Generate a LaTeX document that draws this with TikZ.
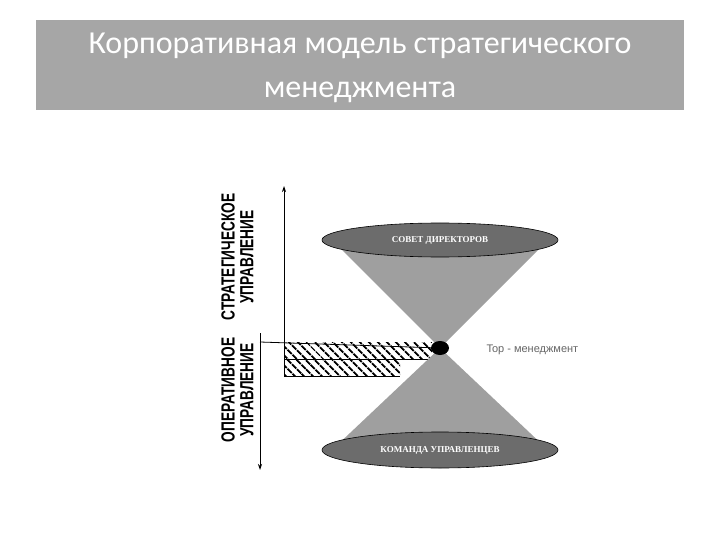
\documentclass[tikz,border=0pt]{standalone}
\usepackage{fontspec}
\setmainfont{Liberation Sans}
\newfontfamily\titlefont{Carlito}
\newfontfamily\serifcaps{Liberation Serif}
\usetikzlibrary{patterns.meta,arrows.meta}
\newcommand{\vtxt}[1]{\scalebox{0.72}[1]{\bfseries\fontsize{19}{20}\selectfont #1}}
\begin{document}
\begin{tikzpicture}[x=1pt,y=-1pt,
  vlab/.style={rotate=90, inner sep=0},
  disk/.style={draw=black, fill=gray!85!black, line width=0.6pt},
  cone/.style={fill=gray!75, draw=none},
  hatch/.style={pattern={Lines[angle=-45,distance=6.5pt,line width=2.2pt]}, pattern color=black},
  ax/.style={line width=0.8pt, -{Stealth[length=6pt,width=4pt]}}]
\useasboundingbox (0,0) rectangle (720,540);
\fill[white] (0,0) rectangle (720,540);
\node[fill=gray!70, minimum width=648, minimum height=90, anchor=north west, inner sep=0] (band) at (36,20) {};
\node[text=white, font=\titlefont\fontsize{32}{44}\selectfont, align=center] (title) at (360,68) {Корпоративная модель стратегического\\менеджмента};
% hatched block
\fill[hatch] (284,342) rectangle (432,359);
\fill[hatch] (284,359) rectangle (400,376);
\draw[line width=1pt] (284,359) -- (432,359);
\draw[line width=1pt] (284,342) -- (284,376) -- (400,376);
% cones
\coordinate (apex) at (440,348);
\fill[cone] (338,246) -- (apex) -- (542,246) -- cycle;
\fill[cone] (332,450) -- (apex) -- (548,450) -- cycle;
\draw[disk] (440,240) ellipse [x radius=118, y radius=17];
\node[text=white, font=\serifcaps\bfseries\fontsize{9}{10}\selectfont] (sd) at (440,240) {СОВЕТ ДИРЕКТОРОВ};
\draw[disk] (440,450) ellipse [x radius=118, y radius=18];
\node[text=white, font=\serifcaps\bfseries\fontsize{9}{10}\selectfont] (ku) at (440,450) {КОМАНДА УПРАВЛЕНЦЕВ};
\fill[black] (apex) ellipse [x radius=9, y radius=7];
\node[anchor=west, text=gray!80!black, font=\fontsize{11}{12}\selectfont] (top) at (483,350) {Top - менеджмент};
% axes
\coordinate (a1) at (284,342); \coordinate (a2) at (284,186);
\draw[ax] (a1) -- (a2);
\coordinate (b1) at (260,333); \coordinate (b2) at (260,470);
\draw[ax] (b1) -- (b2);
\coordinate (h1) at (260,342);
\draw[line width=0.8pt] (h1) -- (apex);
% vertical labels
\node[vlab] (s1) at (228,257) {\vtxt{СТРАТЕГИЧЕСКОЕ}};
\node[vlab] (s2) at (247,257) {\vtxt{УПРАВЛЕНИЕ}};
\node[vlab] (o1) at (228,390) {\vtxt{ОПЕРАТИВНОЕ}};
\node[vlab] (o2) at (247,390) {\vtxt{УПРАВЛЕНИЕ}};
\end{tikzpicture}
\end{document}
